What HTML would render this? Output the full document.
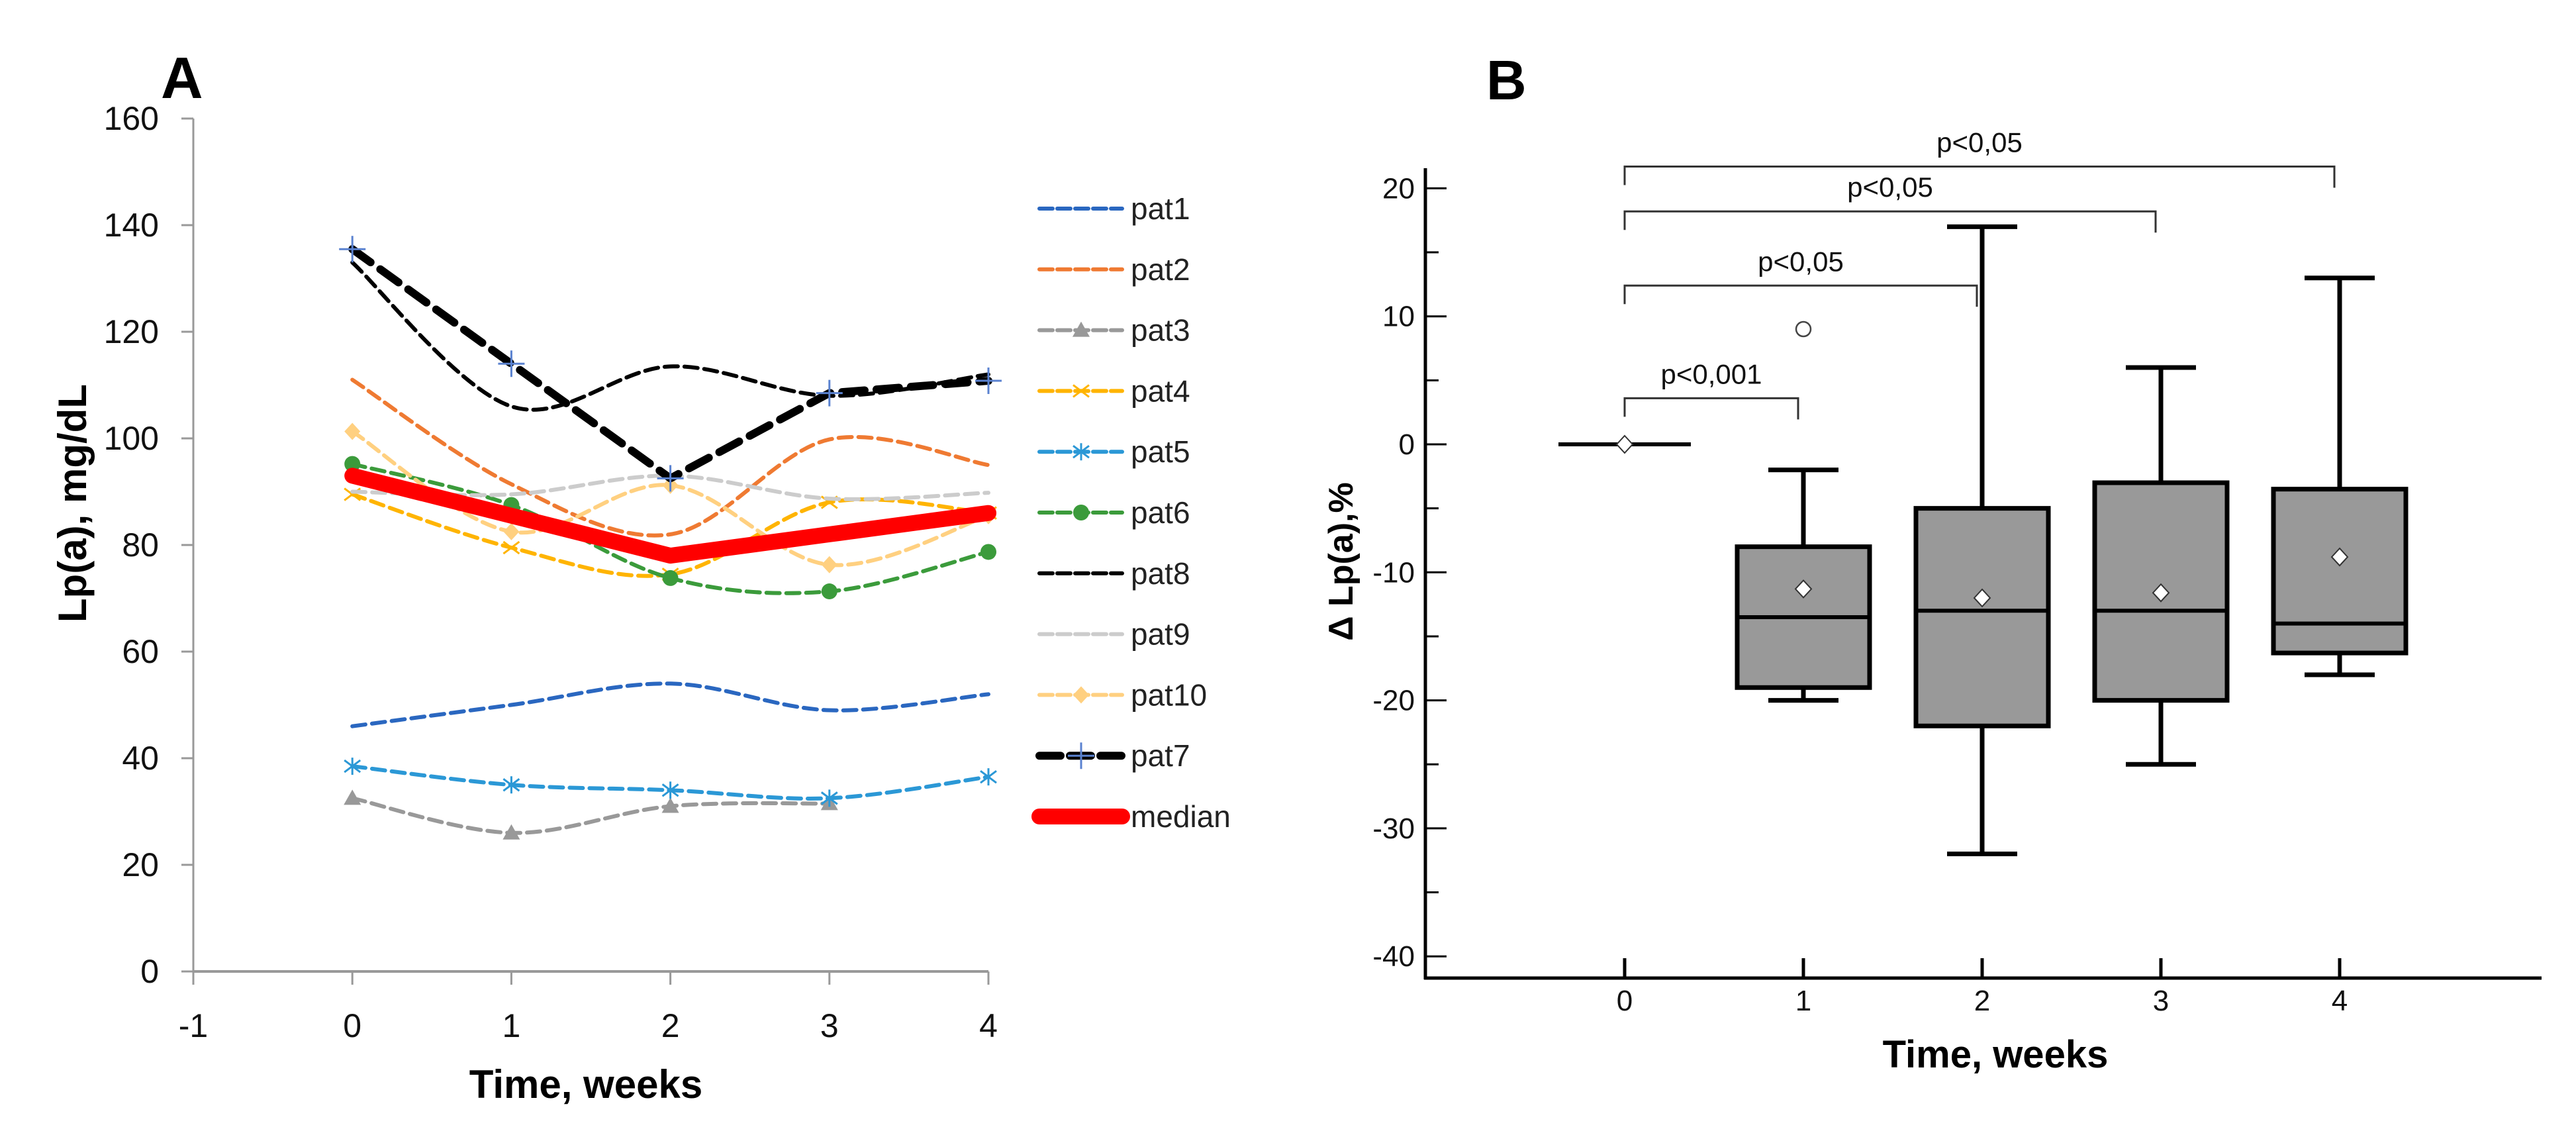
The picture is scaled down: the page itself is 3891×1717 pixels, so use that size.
<!DOCTYPE html>
<html><head><meta charset="utf-8"><style>
html,body{margin:0;padding:0;background:#fff}
svg{display:block}
text{font-family:"Liberation Sans",sans-serif}
</style></head><body>
<svg id="chart" width="3891" height="1717" viewBox="0 0 3891 1717" xmlns="http://www.w3.org/2000/svg">
<g id="panelA"></g>
<g id="panelB"></g>
</svg>
<script>
// ---------- Panel A data ----------
const weeksA = [0,1,2,3,4];
const xTicksA = [-1,0,1,2,3,4];
const yTicksA = [0,20,40,60,80,100,120,140,160];
const pat1 = [46,50,54,49,52];
const pat2 = [111,91.4,82,99.8,95];
const pat3 = [32.5,26,31,31.5];
const pat4 = [89.5,79.5,74.5,88,86];
const pat5 = [38.5,35,34,32.5,36.5];
const pat6 = [95.2,87.5,73.8,71.3,78.7];
const pat8 = [133,106,113.5,108,112];
const pat9 = [90,89.5,93,88.7,89.8];
const pat10 = [101.3,82.5,91.2,76.3,85.5];
const pat7 = [135.5,114,92.5,108.5,110.8];
const median = [93,85.5,78,82,86];
const legendNames = ["pat1","pat2","pat3","pat4","pat5","pat6","pat8","pat9","pat10","pat7","median"];

// ---------- Panel B data ----------
const weeksB = [0,1,2,3,4];
const yTicksB = [20,10,0,-10,-20,-30,-40];
const whiskHi = [0,-2,17,6,13];
const q3 = [0,-8,-5,-3,-3.5];
const med = [0,-13.5,-13,-13,-14];
const q1 = [0,-19,-22,-20,-16.3];
const whiskLo = [0,-20,-32,-25,-18];
const means = [0,-11.3,-12,-11.6,-8.8];
const outlierWeek = [1];
const outlierVal = [9];
const brFrom = [0,0,0,0];
const brTo = [1,2,3,4];
const brLevel = [3.6,12.4,18.2,21.7];
const brLabels = ["p<0,001","p<0,05","p<0,05","p<0,05"];

const NS="http://www.w3.org/2000/svg";
function mk(parent,tag,attrs,txt){const e=document.createElementNS(NS,tag);for(const k in attrs)e.setAttribute(k,attrs[k]);if(txt!==undefined)e.textContent=txt;parent.appendChild(e);return e;}

// ===== Panel A =====
const A=document.getElementById('panelA');
const ax=v=>292+(v+1)*(1493-292)/5;
const ay=v=>1467-v*(1467-179)/160;
let t;
t=mk(A,'text',{x:243,y:148,'font-size':88,'font-weight':'bold'},'A');


let l=mk(A,'line',{x1:292,y1:ay(0),x2:292,y2:ay(160),stroke:'#999','stroke-width':3});


l=mk(A,'line',{x1:292,y1:ay(0),x2:1493,y2:ay(0),stroke:'#999','stroke-width':4});


yTicksA.forEach(v=>{
  mk(A,'line',{x1:274,y1:ay(v),x2:292,y2:ay(v),stroke:'#999','stroke-width':3});
  const e=mk(A,'text',{x:240,y:ay(v)+17,'font-size':50,'text-anchor':'end',fill:'#111'},String(v));
  
  
});
xTicksA.forEach(v=>{
  mk(A,'line',{x1:ax(v),y1:ay(0),x2:ax(v),y2:ay(0)+20,stroke:'#999','stroke-width':3});
  const e=mk(A,'text',{x:ax(v),y:1566,'font-size':50,'text-anchor':'middle',fill:'#111'},String(v));
  
  
});
t=mk(A,'text',{x:885,y:1658,'font-size':60,'font-weight':'bold','text-anchor':'middle'},'Time, weeks');


t=mk(A,'text',{x:0,y:0,'font-size':60,'font-weight':'bold','text-anchor':'middle',transform:'translate(130,760) rotate(-90)'},'Lp(a), mg/dL');



function smoothPath(vals){
  const p=vals.map((v,i)=>[ax(weeksA[i]),ay(v)]);
  let d=`M${p[0][0]},${p[0][1]}`;
  for(let i=0;i<p.length-1;i++){
    const p0=p[i-1]||p[i],p1=p[i],p2=p[i+1],p3=p[i+2]||p[i+1];
    const c1=[p1[0]+(p2[0]-p0[0])/6,p1[1]+(p2[1]-p0[1])/6];
    const c2=[p2[0]-(p3[0]-p1[0])/6,p2[1]-(p3[1]-p1[1])/6];
    d+=` C${c1[0]},${c1[1]} ${c2[0]},${c2[1]} ${p2[0]},${p2[1]}`;
  }
  return d;
}
function straightPath(vals){return vals.map((v,i)=>(i?'L':'M')+ax(weeksA[i])+','+ay(v)).join(' ');}
function marker(g,kind,x,y,col){
  if(kind==='tri')mk(g,'path',{d:`M${x},${y-13} L${x+13},${y+10} L${x-13},${y+10}Z`,fill:col});
  else if(kind==='x')mk(g,'path',{d:`M${x-12},${y-9} L${x+12},${y+9} M${x-12},${y+9} L${x+12},${y-9}`,stroke:col,'stroke-width':3});
  else if(kind==='ast')mk(g,'path',{d:`M${x-12},${y-9} L${x+12},${y+9} M${x-12},${y+9} L${x+12},${y-9} M${x},${y-13} L${x},${y+13}`,stroke:col,'stroke-width':3});
  else if(kind==='dot')mk(g,'circle',{cx:x,cy:y,r:12,fill:col});
  else if(kind==='dia')mk(g,'path',{d:`M${x},${y-13} L${x+12},${y} L${x},${y+13} L${x-12},${y}Z`,fill:col});
  else if(kind==='plus')mk(g,'path',{d:`M${x-20},${y} L${x+20},${y} M${x},${y-20} L${x},${y+20}`,stroke:'#5a82d0','stroke-width':3});
}
const series=[
 {name:'pat1',v:pat1,c:'#2a67c0',m:null,w:6,dash:'20 10',smooth:true},
 {name:'pat2',v:pat2,c:'#ef7a32',m:null,w:6,dash:'20 10',smooth:true},
 {name:'pat3',v:pat3,c:'#999999',m:'tri',w:6,dash:'20 10',smooth:true},
 {name:'pat4',v:pat4,c:'#ffb400',m:'x',w:6,dash:'20 10',smooth:true},
 {name:'pat5',v:pat5,c:'#2b98d6',m:'ast',w:6,dash:'20 10',smooth:true},
 {name:'pat6',v:pat6,c:'#3b9b3b',m:'dot',w:6,dash:'20 10',smooth:true},
 {name:'pat8',v:pat8,c:'#000000',m:null,w:6,dash:'20 10',smooth:true},
 {name:'pat9',v:pat9,c:'#cccccc',m:null,w:6,dash:'20 10',smooth:true},
 {name:'pat10',v:pat10,c:'#ffd080',m:'dia',w:6,dash:'20 10',smooth:true},
 {name:'pat7',v:pat7,c:'#000000',m:'plus',w:12,dash:'34 18',smooth:false},
 {name:'median',v:median,c:'#ff0000',m:null,w:24,dash:null,smooth:false}
];
series.forEach((s,si)=>{
  const g=mk(A,'g',{});
  
  
  const attrs={d:s.smooth?smoothPath(s.v):straightPath(s.v),fill:'none',stroke:s.c,'stroke-width':s.w,'stroke-linecap':'round','stroke-linejoin':'round'};
  if(s.dash)attrs['stroke-dasharray']=s.dash;
  const p=mk(g,'path',attrs);
  
  
  if(s.m)s.v.forEach((v,i)=>marker(g,s.m,ax(weeksA[i]),ay(v),s.c));
  // legend
  const ly=315+si*91.8;
  const lg=mk(A,'g',{});
  
  
  const la={x1:1570,y1:ly,x2:1695,y2:ly,stroke:s.c,'stroke-width':s.w,'stroke-linecap':'round'};
  if(s.dash)la['stroke-dasharray']=s.dash==='20 10'?'20 7':'32 14';
  mk(lg,'line',la);
  if(s.m)marker(lg,s.m,1633,ly,s.c);
  mk(lg,'text',{x:1708,y:ly+16,'font-size':46,fill:'#222'},legendNames[si]);
});

// ===== Panel B =====
const B=document.getElementById('panelB');
const bx=w=>2454+w*270;
const by=v=>671-v*19.33;
t=mk(B,'text',{x:2245,y:150,'font-size':84,'font-weight':'bold'},'B');


l=mk(B,'line',{x1:2153,y1:254,x2:2153,y2:1479,stroke:'#000','stroke-width':5});


l=mk(B,'line',{x1:2151,y1:1477,x2:3839,y2:1477,stroke:'#000','stroke-width':5});


for(let v=-40;v<=20;v+=5){
  const major=v%10===0;
  mk(B,'line',{x1:2153,y1:by(v),x2:2153+(major?32:20),y2:by(v),stroke:'#000','stroke-width':3});
}
yTicksB.forEach(v=>{
  const e=mk(B,'text',{x:2137,y:by(v)+15,'font-size':44,'text-anchor':'end',fill:'#111'},String(v));
  
  
});
weeksB.forEach(w=>{
  mk(B,'line',{x1:bx(w),y1:1477,x2:bx(w),y2:1447,stroke:'#000','stroke-width':5});
  const e=mk(B,'text',{x:bx(w),y:1526,'font-size':44,'text-anchor':'middle',fill:'#111'},String(w));
  
  
});
t=mk(B,'text',{x:3014,y:1612,'font-size':58,'font-weight':'bold','text-anchor':'middle'},'Time, weeks');


t=mk(B,'text',{x:0,y:0,'font-size':52,'font-weight':'bold','text-anchor':'middle',transform:'translate(2043,848) rotate(-90)'},'Δ Lp(a),%');



weeksB.forEach((w,i)=>{
  const g=mk(B,'g',{});
  
  
  const cx=bx(w);
  if(q3[i]===q1[i]&&whiskHi[i]===whiskLo[i]){
    mk(g,'line',{x1:cx-100,y1:by(med[i]),x2:cx+100,y2:by(med[i]),stroke:'#000','stroke-width':6});
  }else{
    mk(g,'line',{x1:cx,y1:by(whiskHi[i]),x2:cx,y2:by(q3[i]),stroke:'#000','stroke-width':7});
    mk(g,'line',{x1:cx,y1:by(q1[i]),x2:cx,y2:by(whiskLo[i]),stroke:'#000','stroke-width':7});
    mk(g,'line',{x1:cx-53,y1:by(whiskHi[i]),x2:cx+53,y2:by(whiskHi[i]),stroke:'#000','stroke-width':7});
    mk(g,'line',{x1:cx-53,y1:by(whiskLo[i]),x2:cx+53,y2:by(whiskLo[i]),stroke:'#000','stroke-width':7});
    mk(g,'rect',{x:cx-100,y:by(q3[i]),width:200,height:by(q1[i])-by(q3[i]),fill:'#999999',stroke:'#000','stroke-width':7});
    mk(g,'line',{x1:cx-100,y1:by(med[i]),x2:cx+100,y2:by(med[i]),stroke:'#000','stroke-width':6});
  }
  const my=by(means[i]);
  const d=mk(g,'path',{d:`M${cx},${my-13} L${cx+12},${my} L${cx},${my+13} L${cx-12},${my}Z`,fill:'#fff',stroke:'#333','stroke-width':2});
  
  
});
outlierWeek.forEach((w,i)=>{
  const c=mk(B,'circle',{cx:bx(w),cy:by(outlierVal[i]),r:11,fill:'#fff',stroke:'#444','stroke-width':2.5});
  
  
});
brFrom.forEach((f,i)=>{
  const g=mk(B,'g',{});
  
  
  const y=by(brLevel[i]), x1=bx(f), x2=bx(brTo[i])-8;
  mk(g,'path',{d:`M${x1},${y+28} L${x1},${y} L${x2},${y} L${x2},${y+32}`,fill:'none',stroke:'#333','stroke-width':3});
  mk(g,'text',{x:(x1+x2)/2,y:y-22,'font-size':42,'text-anchor':'middle',fill:'#111'},brLabels[i]);
});
</script>
</body></html>
